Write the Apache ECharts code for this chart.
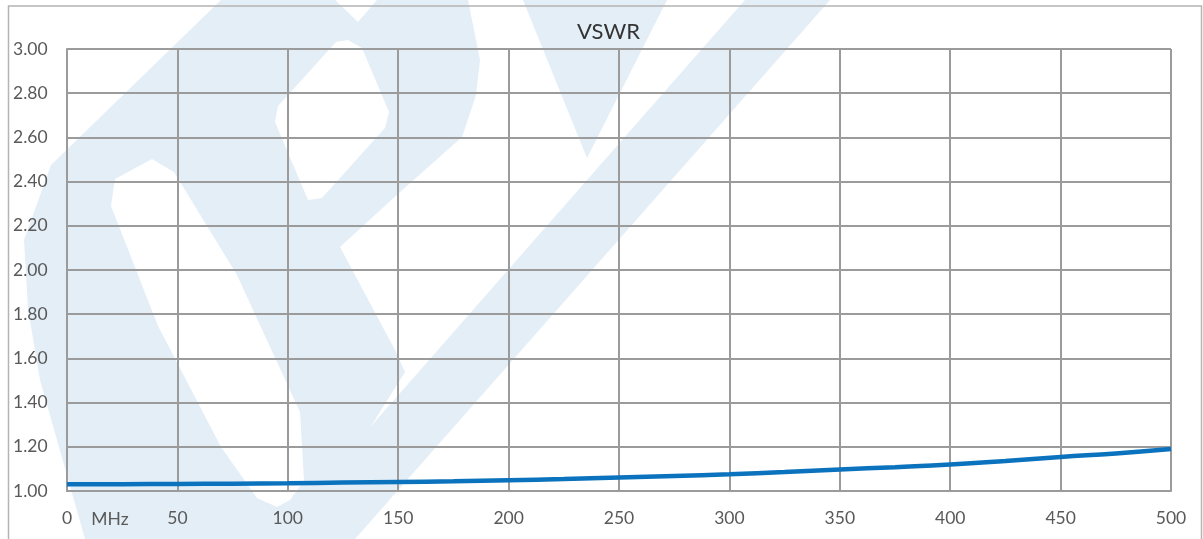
<!DOCTYPE html>
<html>
<head>
<meta charset="utf-8">
<script src="https://cdn.jsdelivr.net/npm/echarts@6/dist/echarts.min.js"></script>
<style>
html,body{margin:0;padding:0;background:#fff;}
#chart{width:1203px;height:539px;}
</style>
</head>
<body>
<div id="chart"></div>
<script>
// ---- data ----
const titleText = 'VSWR';
const unitLabel = 'MHz';
const freqMHz = [0, 25, 50, 75, 100, 125, 150, 175, 200, 225, 250, 275, 300, 325, 350, 375, 400, 425, 450, 475, 500];
const vswr    = [1.030, 1.031, 1.032, 1.033, 1.035, 1.038, 1.041, 1.044, 1.049, 1.054, 1.061, 1.068, 1.076, 1.086, 1.097, 1.108, 1.120, 1.136, 1.154, 1.170, 1.190];
const xMin = 0, xMax = 500, xStep = 50;
const yMin = 1.0, yMax = 3.0, yStep = 0.2;

const seriesData = freqMHz.map((f, i) => [f, vswr[i]]);

const wm = '#e4eef7';
const font = 'Lato, "Open Sans", sans-serif';
const gridColor = '#9b9b9b';

const chart = echarts.init(document.getElementById('chart'), null, {renderer: 'canvas'});
chart.setOption({
  backgroundColor: '#ffffff',
  animation: false,
  title: {
    text: titleText,
    left: 572, top: 16,
    textStyle: {fontFamily: font, fontSize: 22, fontWeight: 'normal', color: '#333333'}
  },
  grid: {left: 67, top: 49, width: 1104, height: 442, containLabel: false},
  xAxis: {
    type: 'value', min: xMin, max: xMax, interval: xStep, z: 10,
    axisLine: {show: true, lineStyle: {color: gridColor, width: 2}},
    axisTick: {show: false},
    axisLabel: {margin: 18, fontFamily: font, fontSize: 17.5, color: '#595959'},
    splitLine: {show: true, lineStyle: {color: gridColor, width: 2}}
  },
  yAxis: {
    type: 'value', min: yMin, max: yMax, interval: yStep, z: 10,
    axisLine: {show: true, lineStyle: {color: gridColor, width: 2}},
    axisTick: {show: false},
    axisLabel: {margin: 54, align: 'left', fontFamily: font, fontSize: 17.5, color: '#595959',
      formatter: v => v.toFixed(2)},
    splitLine: {show: true, lineStyle: {color: gridColor, width: 2}}
  },
  series: [{
    type: 'line', data: seriesData, smooth: true, showSymbol: false, z: 12,
    lineStyle: {color: '#0b72bd', width: 4.5},
    itemStyle: {color: '#0b72bd'}
  }],
  graphic: [
    // watermark (background logo)
    {type: 'polygon', z: 1, silent: true, shape: {points: [
      [221,0],[335,0],[358,22],[377,0],[468,0],[480,60],[476,95],[462,137],[400,192],[340,247],
      [395,350],[405,372],[300,539],[85,539],[40,380],[28,309],[24,240],[51,165]]},
      style: {fill: wm}},
    {type: 'polygon', z: 1, silent: true, shape: {points: [[745,0],[830,0],[355,539],[272,539]]}, style: {fill: wm}},
    {type: 'polygon', z: 1, silent: true, shape: {points: [[523,0],[667,0],[587,158]]}, style: {fill: wm}},
    {type: 'polygon', z: 2, silent: true, shape: {points: [
      [348,40],[362,48],[389,112],[385,128],[322,198],[308,200],[275,122],[278,106],[336,42]]},
      style: {fill: '#ffffff'}},
    {type: 'polygon', z: 2, silent: true, shape: {points: [
      [152,159],[174,172],[237,275],[300,412],[304,481],[290,500],[277,507],[257,498],[221,447],[158,326],[111,206],[115,179]]},
      style: {fill: '#ffffff'}},
    // outer chart border
    {type: 'rect', z: 3, silent: true, shape: {x: 8.5, y: 6, width: 1193, height: 600},
      style: {fill: null, stroke: '#b4b4b4', lineWidth: 1.5}},
    // unit label next to 0
    {type: 'text', z: 11, silent: true, x: 110, y: 519,
      style: {text: unitLabel, fontFamily: font, fontSize: 17.5, fill: '#595959', align: 'center', verticalAlign: 'middle'}}
  ]
});
</script>
</body>
</html>
